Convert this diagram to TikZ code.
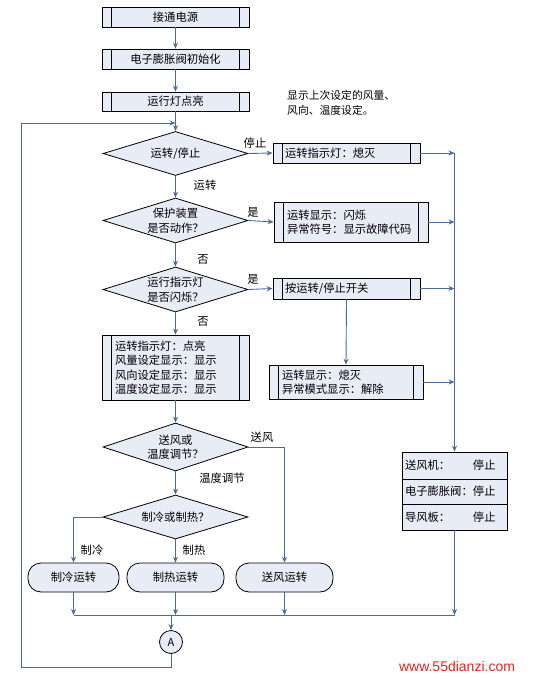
\documentclass[tikz,border=0pt]{standalone}
\usepackage{fontspec}
\newfontfamily\cjk{Noto Sans CJK SC}
\newfontfamily\wmfont{Liberation Sans}
\usetikzlibrary{shapes.geometric,arrows.meta,calc}
\definecolor{boxfill}{HTML}{E8ECF6}
\definecolor{linkc}{HTML}{4A6A9C}
\definecolor{wmred}{HTML}{E2231F}
\tikzset{
  base/.style={draw=black, line width=0.8pt, fill=boxfill, font=\cjk\fontsize{11.3}{14.5}\selectfont, inner sep=0pt},
  procc/.style={base, rectangle, minimum width=147pt, align=center},
  procl/.style={base, rectangle, align=left},
  dec/.style={base, diamond, aspect=3.2, minimum width=145pt, minimum height=44pt, align=center},
  term/.style={base, rectangle, rounded corners=13pt, minimum height=29pt},
  conn/.style={draw=linkc, line width=0.9pt},
  arr/.style={conn, -{Stealth[length=6pt,width=5pt]}},
  lab/.style={font=\cjk\fontsize{11.3}{13}\selectfont, inner sep=0pt},
  cell/.style={base, rectangle, minimum width=105pt, text width=99pt, inner xsep=3pt, align=left},
}
\newcommand\stripes[1]{\draw[line width=0.8pt] ([xshift=10pt]#1.north west) -- ([xshift=10pt]#1.south west) ([xshift=-10pt]#1.north east) -- ([xshift=-10pt]#1.south east);}
\begin{document}
\begin{tikzpicture}[x=1pt,y=-1pt]
\useasboundingbox (0,0) rectangle (553,677);
% process boxes
\node[procc, minimum height=20pt] (p1) at (175.5,17) {接通电源};
\node[procc, minimum height=20pt] (p2) at (175.5,59) {电子膨胀阀初始化};
\node[procc, minimum height=19pt] (p3) at (175.5,101.5) {运行灯点亮};
\stripes{p1}\stripes{p2}\stripes{p3}
% annotation
\node[lab, anchor=west, align=left, font=\cjk\fontsize{10.8}{15}\selectfont] (note) at (287,102.5) {显示上次设定的风量、\\风向、温度设定。};
% decisions
\node[dec] (d1) at (175.5,153.5) {运转/停止};
\node[dec, minimum height=45pt] (d2) at (175.5,220.5) {保护装置\\是否动作？};
\node[dec, minimum height=45pt] (d3) at (175.5,289.5) {运行指示灯\\是否闪烁？};
\node[dec, minimum height=48pt] (d4) at (175.5,447) {送风或\\温度调节？};
\node[dec] (d5) at (175.5,517) {制冷或制热？};
% right-side boxes
\node[procl, minimum height=20pt, text width=123pt, inner xsep=12pt] (b1) at (346.5,153) {运转指示灯：熄灭};
\node[procl, minimum height=40pt, text width=128pt, inner xsep=13pt] (b2) at (351,222) {运转显示：闪烁\\异常符号：显示故障代码};
\node[procl, minimum height=21pt, text width=123pt, inner xsep=12pt] (b3) at (346.5,288.5) {按运转/停止开关};
\node[procl, minimum height=34pt, text width=128pt, inner xsep=13pt] (b4) at (346,382) {运转显示：熄灭\\异常模式显示：解除};
\node[procl, minimum height=65pt, text width=121pt, inner xsep=13pt] (b5) at (175.5,367.5) {运转指示灯：点亮\\风量设定显示：显示\\风向设定显示：显示\\温度设定显示：显示};
\stripes{b1}\stripes{b2}\stripes{b3}\stripes{b4}\stripes{b5}
% table
\node[cell, minimum height=27pt] (t1) at (454.5,465.5) {\makebox[68pt][l]{送风机：}停止};
\node[cell, minimum height=25pt] (t2) at (454.5,491.5) {\makebox[68pt][l]{电子膨胀阀：}停止};
\node[cell, minimum height=26pt] (t3) at (454.5,517) {\makebox[68pt][l]{导风板：}停止};
% terminals
\node[term, minimum width=91pt] (r1) at (73.5,577.5) {制冷运转};
\node[term, minimum width=97pt] (r2) at (175.5,577.5) {制热运转};
\node[term, minimum width=97pt] (r3) at (284.5,577.5) {送风运转};
% connector circle
\node[base, circle, minimum size=23pt, font=\cjk\fontsize{11}{12}\selectfont] (A) at (171,642) {A};
% labels
\node[lab] (l1) at (255,143) {停止};
\node[lab] (l2) at (205,185) {运转};
\node[lab] (l3) at (253,212) {是};
\node[lab] (l4) at (203,260) {否};
\node[lab] (l5) at (253,279) {是};
\node[lab] (l6) at (203,322) {否};
\node[lab] (l7) at (262,437) {送风};
\node[lab] (l8) at (222,478) {温度调节};
\node[lab] (l9) at (92,550) {制冷};
\node[lab] (l10) at (194,550) {制热};
% coordinates
\coordinate (busL) at (74,615);
\coordinate (busR) at (454.5,615);
\coordinate (busA) at (171,615);
\coordinate (loopB) at (171,667);
\coordinate (loopBL) at (21,667);
\coordinate (loopTL) at (21,123);
\coordinate (loopT) at (175.5,123);
\coordinate (rtop) at (454.5,153);
% main column
\draw[arr] (p1.south) -- (p2.north);
\draw[arr] (p2.south) -- (p3.north);
\draw[arr] (p3.south) -- (d1.north);
\draw[arr] (d1.south) -- (d2.north);
\draw[arr] (d2.south) -- (d3.north);
\draw[arr] (d3.south) -- (b5.north);
\draw[arr] (b5.south) -- (d4.north);
\draw[arr] (d4.south) -- (d5.north);
% branches right
\draw[arr] (d1.east) -- (b1.west);
\draw[arr] (d2.east) -- (b2.west);
\draw[arr] (d3.east) -- (b3.west);
\draw[arr] (b3.south) -- (b4.north);
\draw[arr] (b1.east) -- (b1.east -| rtop);
\draw[arr] (b2.east) -- (b2.east -| rtop);
\draw[arr] (b3.east) -- (b3.east -| rtop);
\draw[arr] (b4.east) -- (b4.east -| rtop);
\draw[arr] (rtop) -- (t1.north);
% lower branches
\draw[arr] (d4.east) -| (r3.north);
\draw[arr] (d5.west) -| (r1.north);
\draw[arr] (d5.south) -- (r2.north);
\draw[arr] (r1.south) -- (r1.south |- busL);
\draw[arr] (r2.south) -- (r2.south |- busL);
\draw[arr] (r3.south) -- (r3.south |- busL);
\draw[arr] (t3.south) -- (t3.south |- busL);
\draw[conn] (busL) -- (busR);
\draw[arr] (busA) -- (A.north);
\draw[arr] (A.south) -- (loopB) -- (loopBL) -- (loopTL) -- (loopT);
% watermark
\node[text=wmred, font=\wmfont\fontsize{14}{14}\selectfont, inner sep=0pt] (wm) at (457,666) {www.55dianzi.com};
\end{tikzpicture}
\end{document}
